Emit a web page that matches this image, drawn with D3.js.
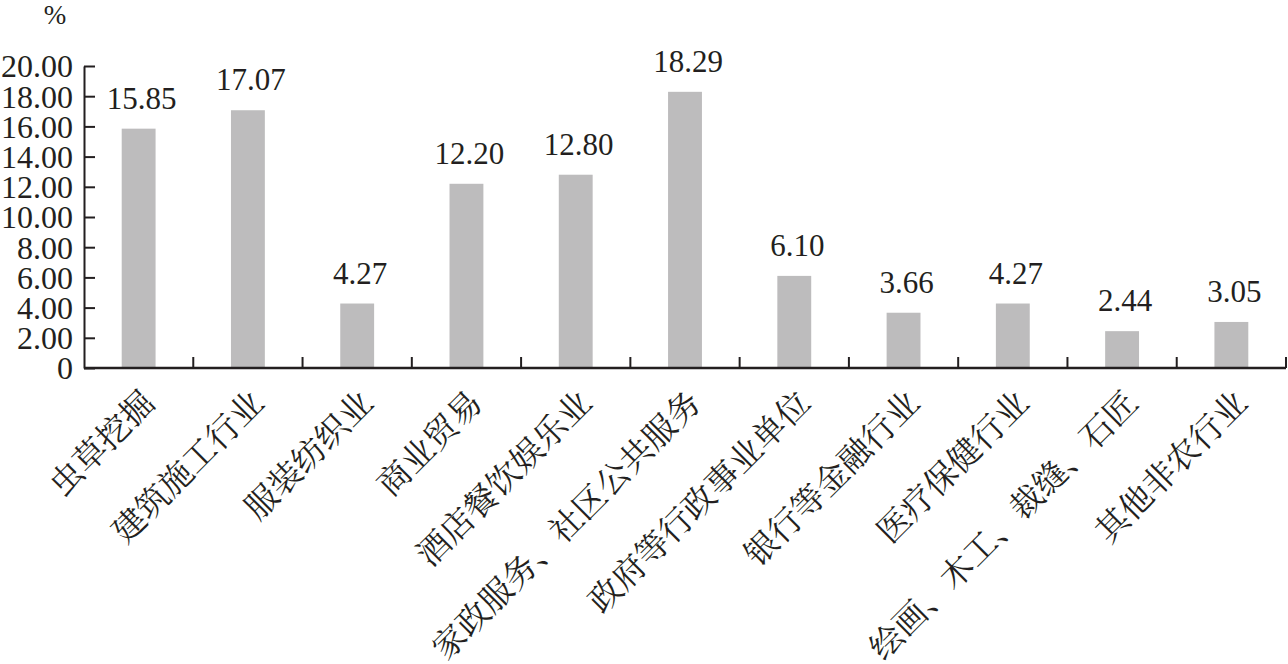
<!DOCTYPE html>
<html>
<head>
<meta charset="utf-8">
<script src="https://cdn.jsdelivr.net/npm/d3@7"></script>
<style>
  html, body { margin: 0; padding: 0; background: #fff; }
  svg { display: block; }
</style>
</head>
<body>
<svg id="chart" width="1288" height="664"></svg>
<script>
const categories = ["虫草挖掘", "建筑施工行业", "服装纺织业", "商业贸易", "酒店餐饮娱乐业", "家政服务、社区公共服务", "政府等行政事业单位", "银行等金融行业", "医疗保健行业", "绘画、木工、裁缝、石匠", "其他非农行业"];
const values = [15.85, 17.07, 4.27, 12.20, 12.80, 18.29, 6.10, 3.66, 4.27, 2.44, 3.05];
const yTicks = [0, 2, 4, 6, 8, 10, 12, 14, 16, 18, 20];
const yUnit = "%";

(function () {
const svg = d3.select("#chart");
const mLeft = 84, mRight = 1286, mTop = 66, mBottom = 368;
const axisColor = "#231f20";
const serif = '"Liberation Serif"';
const cjk = '"Noto Serif CJK SC"';

const x = d3.scaleBand().domain(categories).range([mLeft, mRight]).paddingInner(0.69).paddingOuter(0.345);
const xb = d3.scaleBand().domain(categories).range([mLeft, mRight]).padding(0);
const y = d3.scaleLinear().domain([0, 20]).range([mBottom, mTop]);

// bars
svg.append("g").selectAll("rect").data(values).join("rect")
  .attr("x", (d, i) => x(categories[i]))
  .attr("y", d => y(d))
  .attr("width", x.bandwidth())
  .attr("height", d => y(0) - y(d))
  .attr("fill", "#bdbcbd");

// value labels
svg.append("g").selectAll("text").data(values).join("text")
  .style("font-family", serif).style("font-size", "31px")
  .attr("x", (d, i) => x(categories[i]) + x.bandwidth() / 2 + 3)
  .attr("y", d => y(d) - 20)
  .attr("text-anchor", "middle")
  .attr("fill", "#231f20")
  .text(d => d.toFixed(2));

// y axis
const yAxis = d3.axisLeft(y).tickValues(yTicks).tickSizeInner(-11).tickSizeOuter(0)
  .tickPadding(11)
  .tickFormat(d => d === 0 ? "0" : d.toFixed(2));
const gy = svg.append("g").attr("transform", `translate(${mLeft},0)`).call(yAxis);
gy.attr("font-family", null).attr("font-size", null);
gy.select(".domain").attr("stroke", axisColor).attr("stroke-width", 2);
gy.selectAll(".tick line").attr("stroke", axisColor).attr("stroke-width", 2);
gy.selectAll(".tick text").style("font-family", serif).style("font-size", "32px")
  .attr("fill", "#231f20").attr("dy", "0.34em");

// x axis
const gx = svg.append("g").attr("transform", `translate(0,${mBottom})`);
gx.append("line").attr("x1", mLeft).attr("x2", mRight).attr("y1", 0).attr("y2", 0)
  .attr("stroke", axisColor).attr("stroke-width", 2.5);
gx.selectAll("line.sep").data(categories).join("line").attr("class", "sep")
  .attr("x1", d => xb(d) + xb.bandwidth()).attr("x2", d => xb(d) + xb.bandwidth())
  .attr("y1", 0).attr("y2", -11)
  .attr("stroke", axisColor).attr("stroke-width", 2);

// category labels
svg.append("g").selectAll("text").data(categories).join("text")
  .style("font-family", cjk).style("font-size", "33px")
  .attr("transform", d => `translate(${x(d) + x.bandwidth() / 2 + 18},${mBottom + 37}) rotate(-45)`)
  .attr("text-anchor", "end")
  .attr("fill", "#231f20")
  .text(d => d);

// unit
svg.append("text").style("font-family", serif).style("font-size", "27px")
  .attr("x", 55).attr("y", 24).attr("text-anchor", "middle")
  .attr("fill", "#231f20").text(yUnit);
})();
</script>
</body>
</html>
